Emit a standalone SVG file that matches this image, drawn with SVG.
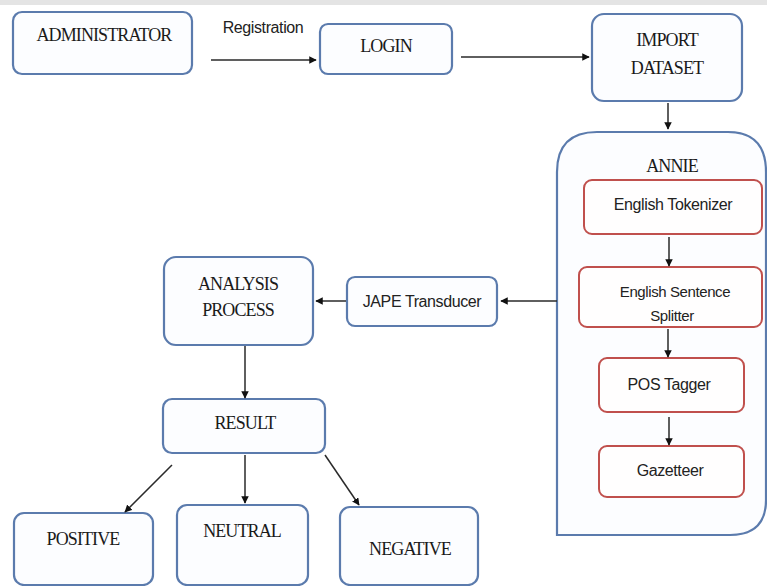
<svg xmlns="http://www.w3.org/2000/svg" width="767" height="586" viewBox="0 0 767 586">
<style>
.b{fill:#fcfdff;stroke:#5b7bad;stroke-width:2.2}
.r{fill:#fffefe;stroke:#c0504d;stroke-width:2}
.s{font-family:"Liberation Serif","Times New Roman",serif;font-size:18px;fill:#1a1a1a;text-anchor:middle;letter-spacing:-0.9px}
.t{font-family:"Liberation Sans",Arial,sans-serif;font-size:16px;fill:#222;text-anchor:middle;letter-spacing:-0.4px}
.c{stroke:#2a2a2a;stroke-width:1.5;fill:none;marker-end:url(#ah)}
</style>
<defs>
<marker id="ah" viewBox="0 0 10 10" refX="9" refY="5" markerWidth="5" markerHeight="5" orient="auto" markerUnits="strokeWidth">
<path d="M0,0 L10,5 L0,10 z" fill="#111"/>
</marker>
</defs>
<rect x="0" y="0" width="767" height="586" fill="#ffffff"/>
<rect x="0" y="0" width="767" height="5" fill="#e4e4e4"/>
<g id="administrator"><rect class="b" x="13" y="12" width="179" height="62" rx="9"/><text class="s" x="104" y="41">ADMINISTRATOR</text></g>
<g id="registration-label"><text class="t" x="263" y="33">Registration</text></g>
<g id="login"><rect class="b" x="320" y="24" width="132" height="50" rx="8"/><text class="s" x="386" y="52">LOGIN</text></g>
<g id="import-dataset"><rect class="b" x="592" y="14" width="150" height="87" rx="12"/><text class="s" x="667" y="46">IMPORT</text><text class="s" x="667" y="74">DATASET</text></g>
<g id="annie"><path class="b" d="M557,535 L557,172 Q557,132 597,132 L728,132 Q766,132 766,172 L766,500 Q766,535 730,535 Z"/><text class="s" x="672" y="172">ANNIE</text></g>
<g id="english-tokenizer"><rect class="r" x="584" y="180" width="178" height="54" rx="8"/><text class="t" x="673" y="210">English Tokenizer</text></g>
<g id="english-sentence-splitter"><rect class="r" x="579" y="267" width="183" height="60" rx="8"/><text class="t" x="675" y="297" style="font-size:15px">English Sentence</text><text class="t" x="672" y="321" style="font-size:15px">Splitter</text></g>
<g id="pos-tagger"><rect class="r" x="599" y="358" width="145" height="54" rx="8"/><text class="t" x="669" y="390">POS Tagger</text></g>
<g id="gazetteer"><rect class="r" x="599" y="446" width="145" height="51" rx="8"/><text class="t" x="670" y="476">Gazetteer</text></g>
<g id="jape-transducer"><rect class="b" x="347" y="277" width="150" height="49" rx="8"/><text class="t" x="422" y="307">JAPE Transducer</text></g>
<g id="analysis-process"><rect class="b" x="164" y="257" width="149" height="88" rx="12"/><text class="s" x="238" y="290">ANALYSIS</text><text class="s" x="238" y="316">PROCESS</text></g>
<g id="result"><rect class="b" x="163" y="399" width="162" height="54" rx="9"/><text class="s" x="245" y="429">RESULT</text></g>
<g id="positive"><rect class="b" x="14" y="513" width="139" height="72" rx="10"/><text class="s" x="83" y="545">POSITIVE</text></g>
<g id="neutral"><rect class="b" x="177" y="505" width="131" height="80" rx="10"/><text class="s" x="242" y="537">NEUTRAL</text></g>
<g id="negative"><rect class="b" x="340" y="507" width="138" height="78" rx="10"/><text class="s" x="410" y="555">NEGATIVE</text></g>
<g id="connectors">
<line class="c" x1="211" y1="60" x2="316" y2="60"/>
<line class="c" x1="461" y1="57" x2="589" y2="57"/>
<line class="c" x1="668" y1="103" x2="668" y2="129"/>
<line class="c" x1="669" y1="237" x2="669" y2="266"/>
<line class="c" x1="668" y1="329" x2="668" y2="357"/>
<line class="c" x1="669" y1="417" x2="669" y2="445"/>
<line class="c" x1="557" y1="301" x2="501" y2="301"/>
<line class="c" x1="346" y1="301" x2="316" y2="301"/>
<line class="c" x1="245" y1="346" x2="245" y2="398"/>
<line class="c" x1="172" y1="465" x2="125" y2="512"/>
<line class="c" x1="245" y1="455" x2="245" y2="503"/>
<line class="c" x1="325" y1="455" x2="359" y2="505"/>
</g>
</svg>
